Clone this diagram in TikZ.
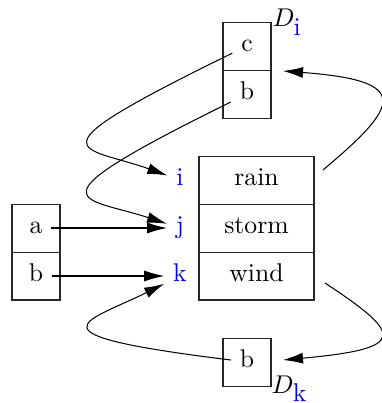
\documentclass[tikz,border=0pt]{standalone}
\usetikzlibrary{arrows.meta}
\begin{document}
\begin{tikzpicture}[x=0.39pt,y=-0.39pt,
  txt/.style={inner sep=0.3333em, text height=7pt, text depth=2.5pt},
  lbl/.style={txt, text=blue},
  arr/.style={-{Latex[length=7.8pt,width=4.3pt]}, line width=0.4pt},
  cellline/.style={line width=0.4pt, draw=black!85}]
\useasboundingbox (0,0) rectangle (382,403);
% boxes
\begin{scope}[shift={(0.5,0.5)}]
\draw[cellline] (222.5,22) rectangle (270.5,118);
\draw[cellline] (222.5,70) -- (270.5,70);
\draw[cellline] (11.5,204) rectangle (59.5,299.5);
\draw[cellline] (11.5,252) -- (59.5,252);
\draw[cellline] (198.5,156) rectangle (313.5,299.5);
\draw[cellline] (198.5,204) -- (313.5,204);
\draw[cellline] (198.5,252) -- (313.5,252);
\draw[cellline] (222.5,338) rectangle (270.5,386);
\end{scope}
% texts
\node[txt] (c) at (247,46) {c};
\node[txt] (b1) at (247,94) {b};
\node[txt] (a) at (36,228) {a};
\node[txt] (b2) at (36,276) {b};
\node[txt] (rain) at (256.5,180) {rain};
\node[txt] (storm) at (256.5,228) {storm};
\node[txt] (wind) at (256.5,276) {wind};
\node[txt] (b3) at (247,362) {b};
\node[lbl] (i) at (180,180) {i};
\node[lbl] (j) at (180,228) {j};
\node[lbl] (k) at (180,276) {k};
\node[anchor=base west, inner sep=0pt] (Di) at (272,27) {$D_{\mbox{\color{blue}i}}$};
\node[anchor=base west, inner sep=0pt] (Dk) at (271,393) {$D_{\mbox{\color{blue}k}}$};
% free ends
\coordinate (r0) at (323,170);
\coordinate (r1) at (283,71);
\coordinate (w0) at (325,283);
\coordinate (w1) at (283,360);
% connectors
\draw[arr] (a) -- (j);
\draw[arr] (b2) -- (k);
\draw[arr] (c) .. controls (22,156) and (82,145) .. (i);
\draw[arr] (b1) .. controls (22,205) and (82,196) .. (j);
\draw[arr] (b3) .. controls (20,334) and (86,322.5) .. (k);
\draw[arr] (r0) .. controls (399.5,105.6) and (413,80.8) .. (r1);
\draw[arr] (w0) .. controls (403.9,335) and (407.5,348.5) .. (w1);
\end{tikzpicture}
\end{document}
